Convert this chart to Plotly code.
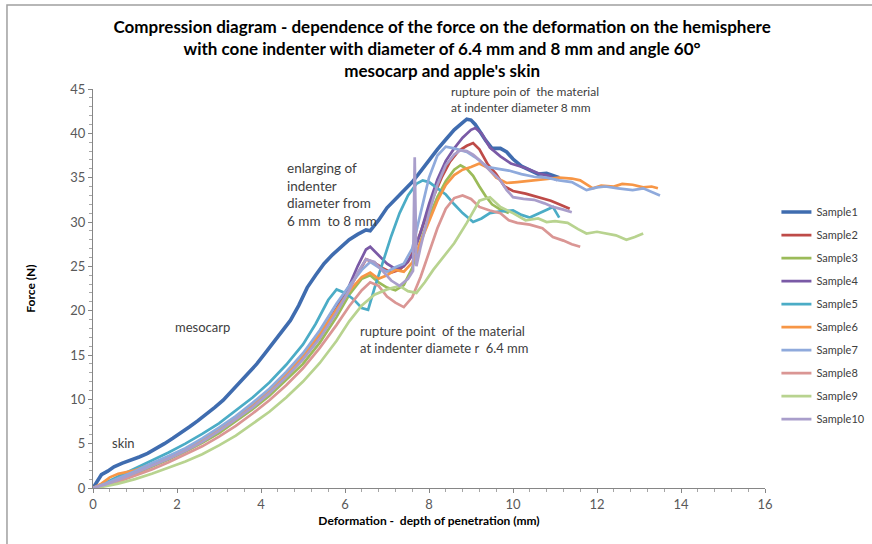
import plotly.graph_objects as go

names = ["Sample1", "Sample2", "Sample3", "Sample4", "Sample5",
         "Sample6", "Sample7", "Sample8", "Sample9", "Sample10"]
colors = ["#3F6CAF", "#BE4B48", "#9BBB59", "#7A5AA6", "#4BACC6",
          "#F79646", "#8FAADC", "#DA9694", "#B8D38F", "#A99ECB"]

s1_x = [0, 0.1, 0.2, 0.35, 0.5, 0.7, 0.9, 1.1, 1.3, 1.5, 1.7, 1.9, 2.1, 2.3, 2.5, 2.7, 2.9, 3.1, 3.3, 3.5,
        3.7, 3.9, 4.1, 4.3, 4.5, 4.7, 4.9, 5.1, 5.3, 5.5, 5.7, 5.9, 6.1, 6.3, 6.5, 6.6, 6.8, 7.0, 7.2, 7.4,
        7.6, 7.8, 8.0, 8.2, 8.4, 8.6, 8.8, 8.9, 9.0, 9.1, 9.2, 9.35, 9.5, 9.7, 9.85, 10.0, 10.2, 10.4, 10.6,
        10.8, 11.0, 11.1]
s1_y = [0, 0.8, 1.5, 1.9, 2.4, 2.8, 3.1, 3.5, 3.9, 4.4, 5.0, 5.6, 6.2, 6.9, 7.6, 8.3, 9.1, 9.9, 10.9, 11.9,
        12.9, 14.0, 15.2, 16.4, 17.6, 18.9, 20.6, 22.6, 24.0, 25.3, 26.3, 27.2, 28.0, 28.6, 29.1, 29.0, 30.2,
        31.6, 32.6, 33.5, 34.5, 35.7, 37.0, 38.2, 39.3, 40.4, 41.2, 41.6, 41.5, 41.0, 40.3, 39.2, 38.3, 38.3,
        37.9, 37.1, 36.3, 35.8, 35.4, 35.5, 35.1, 35.0]

s2_x = [0, 0.3, 0.6, 1.0, 1.4, 1.8, 2.2, 2.6, 3.0, 3.4, 3.8, 4.2, 4.6, 5.0, 5.4, 5.8, 6.1, 6.3, 6.5, 6.7,
        6.9, 7.1, 7.3, 7.5, 7.7, 7.9, 8.1, 8.3, 8.5, 8.7, 8.9, 9.05, 9.2, 9.4, 9.6, 9.8, 10.0, 10.3, 10.6,
        10.9, 11.1, 11.35]
s2_y = [0, 0.4, 1.0, 1.8, 2.6, 3.4, 4.3, 5.3, 6.5, 7.8, 9.2, 10.8, 12.6, 14.6, 17.0, 20.0, 22.5, 24.3, 25.8,
        25.4, 24.8, 24.3, 24.6, 25.5, 27.5, 30.2, 32.8, 35.0, 36.8, 38.0, 38.6, 38.9, 38.2, 36.5, 35.4, 34.0,
        33.5, 33.2, 32.8, 32.4, 32.0, 31.5]

s3_x = [0, 0.3, 0.6, 1.0, 1.4, 1.8, 2.2, 2.6, 3.0, 3.4, 3.8, 4.2, 4.6, 5.0, 5.4, 5.8, 6.1, 6.4, 6.6, 6.8,
        7.0, 7.2, 7.4, 7.6, 7.8, 8.0, 8.2, 8.4, 8.6, 8.75, 8.9, 9.05, 9.2, 9.35, 9.5, 9.7, 9.9]
s3_y = [0, 0.3, 0.8, 1.6, 2.4, 3.2, 4.1, 5.1, 6.2, 7.5, 8.9, 10.4, 12.2, 14.0, 16.4, 19.3, 21.8, 23.6, 24.0,
        23.2, 22.6, 22.3, 22.9, 24.8, 27.8, 30.5, 32.8, 34.6, 35.9, 36.4, 36.0, 35.2, 34.0, 32.9, 32.0, 31.4,
        31.0]

s4_x = [0, 0.3, 0.6, 1.0, 1.4, 1.8, 2.2, 2.6, 3.0, 3.4, 3.8, 4.2, 4.6, 5.0, 5.4, 5.8, 6.1, 6.3, 6.5, 6.6,
        6.8, 7.0, 7.2, 7.4, 7.6, 7.8, 8.0, 8.2, 8.4, 8.6, 8.8, 9.0, 9.1, 9.25, 9.45, 9.7, 9.95, 10.3, 10.6,
        10.85, 11.05]
s4_y = [0, 0.5, 1.1, 1.9, 2.7, 3.5, 4.4, 5.4, 6.6, 7.9, 9.3, 10.9, 12.7, 14.8, 17.3, 20.3, 22.8, 25.0, 26.9,
        27.2, 26.2, 25.3, 24.7, 25.0, 26.2, 28.8, 32.0, 34.8, 36.9, 38.3, 39.5, 40.4, 40.6, 40.0, 38.4, 37.4,
        36.6, 36.1, 35.5, 35.2, 34.7]

s5_x = [0, 0.3, 0.6, 1.0, 1.4, 1.8, 2.2, 2.6, 3.0, 3.4, 3.8, 4.2, 4.6, 5.0, 5.3, 5.6, 5.8, 6.0, 6.2, 6.4,
        6.55, 6.7, 6.9, 7.1, 7.3, 7.5, 7.7, 7.85, 8.0, 8.2, 8.4, 8.6, 8.8, 9.05, 9.25, 9.45, 9.7, 10.0, 10.2,
        10.4, 10.7, 10.95, 11.1]
s5_y = [0, 0.6, 1.3, 2.2, 3.1, 4.0, 5.0, 6.1, 7.3, 8.7, 10.2, 11.9, 13.9, 16.2, 18.5, 21.2, 22.4, 22.0, 21.3,
        20.3, 20.1, 22.5, 25.4, 28.4, 31.0, 33.0, 34.3, 34.7, 34.5, 33.8, 33.1, 32.0, 31.0, 30.0, 30.4, 31.0,
        31.2, 31.3, 30.8, 30.5, 31.2, 31.7, 30.5]

s6_x = [0, 0.2, 0.4, 0.6, 1.0, 1.4, 1.8, 2.2, 2.6, 3.0, 3.4, 3.8, 4.2, 4.6, 5.0, 5.4, 5.8, 6.1, 6.4, 6.6,
        6.8, 7.0, 7.2, 7.4, 7.6, 7.8, 8.0, 8.2, 8.4, 8.6, 8.8, 9.0, 9.2, 9.4, 9.6, 9.85, 10.1, 10.5, 10.8,
        11.1, 11.4, 11.6, 11.9, 12.1, 12.4, 12.6, 12.85, 13.1, 13.3, 13.45]
s6_y = [0, 0.5, 1.2, 1.6, 2.0, 2.7, 3.5, 4.4, 5.4, 6.6, 7.9, 9.4, 11.0, 12.8, 14.9, 17.4, 20.2, 22.2, 23.8,
        24.3, 23.6, 24.0, 24.6, 24.4, 25.4, 27.8, 30.2, 32.4, 34.2, 35.3, 35.9, 36.2, 36.6, 36.1, 35.0, 34.4,
        34.5, 34.7, 34.8, 35.0, 34.9, 34.7, 33.8, 34.1, 34.0, 34.3, 34.2, 33.9, 34.0, 33.8]

s7_x = [0, 0.3, 0.6, 1.0, 1.4, 1.8, 2.2, 2.6, 3.0, 3.4, 3.8, 4.2, 4.6, 5.0, 5.4, 5.8, 6.1, 6.4, 6.6, 6.8,
        7.0, 7.2, 7.4, 7.6, 7.8, 8.0, 8.2, 8.4, 8.6, 8.9, 9.1, 9.4, 9.65, 9.9, 10.2, 10.5, 10.8, 11.1, 11.4,
        11.75, 12.0, 12.2, 12.5, 12.85, 13.1, 13.3, 13.5]
s7_y = [0, 0.5, 1.1, 1.9, 2.8, 3.6, 4.5, 5.6, 6.8, 8.1, 9.6, 11.2, 13.1, 15.2, 17.8, 20.8, 22.8, 24.6, 25.5,
        24.9, 24.4, 24.9, 25.3, 27.0, 31.0, 35.0, 37.5, 38.5, 38.3, 37.9, 37.3, 36.2, 36.0, 35.8, 35.4, 35.1,
        35.0, 34.7, 34.5, 33.6, 33.9, 34.0, 33.8, 33.6, 33.8, 33.4, 33.0]

s8_x = [0, 0.3, 0.6, 1.0, 1.4, 1.8, 2.2, 2.6, 3.0, 3.4, 3.8, 4.2, 4.6, 5.0, 5.4, 5.8, 6.1, 6.4, 6.6, 6.8,
        7.0, 7.2, 7.4, 7.6, 7.8, 8.0, 8.2, 8.4, 8.6, 8.8, 9.0, 9.2, 9.45, 9.7, 9.9, 10.1, 10.4, 10.7, 10.95,
        11.2, 11.4, 11.6]
s8_y = [0, 0.3, 0.7, 1.4, 2.1, 2.9, 3.8, 4.7, 5.8, 7.0, 8.4, 9.9, 11.6, 13.5, 15.8, 18.4, 20.5, 22.3, 23.2,
        22.8, 21.6, 20.9, 20.4, 21.5, 23.8, 26.5, 29.3, 31.5, 32.7, 33.0, 32.6, 31.7, 31.3, 31.0, 30.2, 29.9,
        29.7, 29.3, 28.3, 27.9, 27.5, 27.2]

s9_x = [0, 0.3, 0.6, 1.0, 1.4, 1.8, 2.2, 2.6, 3.0, 3.4, 3.8, 4.2, 4.6, 5.0, 5.4, 5.8, 6.1, 6.4, 6.7, 7.0,
        7.3, 7.5, 7.7, 7.9, 8.1, 8.3, 8.6, 8.9, 9.2, 9.45, 9.7, 10.0, 10.3, 10.6, 10.8, 11.0, 11.3, 11.55,
        11.75, 12.0, 12.2, 12.45, 12.7, 12.9, 13.1]
s9_y = [0, 0.2, 0.5, 1.0, 1.6, 2.3, 3.0, 3.8, 4.8, 5.9, 7.2, 8.6, 10.2, 12.0, 14.1, 16.6, 18.8, 20.6, 21.8,
        22.4, 22.8, 22.2, 22.0, 23.2, 24.6, 25.8, 27.6, 29.9, 32.4, 32.8, 31.7, 31.0, 30.2, 30.4, 30.0, 30.1,
        29.9, 29.2, 28.7, 28.9, 28.7, 28.5, 28.0, 28.3, 28.7]

s10_x = [0, 0.3, 0.6, 1.0, 1.4, 1.8, 2.2, 2.6, 3.0, 3.4, 3.8, 4.2, 4.6, 5.0, 5.4, 5.8, 6.1, 6.3, 6.5, 6.7,
         6.9, 7.1, 7.3, 7.5, 7.62, 7.66, 7.7, 7.8, 8.0, 8.2, 8.4, 8.6, 8.75, 8.9, 9.05, 9.2, 9.45, 9.7, 9.85,
         10.0, 10.25, 10.5, 10.75, 10.95, 11.2, 11.4]
s10_y = [0, 0.4, 0.9, 1.7, 2.5, 3.3, 4.2, 5.2, 6.4, 7.7, 9.1, 10.7, 12.5, 14.5, 16.9, 19.8, 22.3, 24.3, 25.8,
         25.5, 24.4, 23.4, 22.8, 23.6, 24.5, 37.3, 25.0, 27.2, 31.0, 34.2, 36.4, 37.6, 38.1, 38.0, 37.6, 37.0,
         35.8, 34.7, 33.6, 32.8, 32.6, 32.5, 32.1, 31.7, 31.4, 31.1]

xs = [s1_x, s2_x, s3_x, s4_x, s5_x, s6_x, s7_x, s8_x, s9_x, s10_x]
ys = [s1_y, s2_y, s3_y, s4_y, s5_y, s6_y, s7_y, s8_y, s9_y, s10_y]

x_ticks = [0, 2, 4, 6, 8, 10, 12, 14, 16]
y_ticks = [0, 5, 10, 15, 20, 25, 30, 35, 40, 45]

FONT = "Lato, Carlito, Calibri, sans-serif"

fig = go.Figure()
for i, (n, c, x, y) in enumerate(zip(names, colors, xs, ys)):
    fig.add_trace(go.Scatter(x=x, y=y, name=n, mode="lines", legendgroup=n,
                             line=dict(color=c, width=3.6 if i == 0 else 2.7)))

annots = [
    ("rupture poin of  the material<br>at indenter diameter 8 mm", 8.48, 43.85, 12),
    ("enlarging of<br>indenter<br>diameter from<br>6 mm  to 8 mm", 4.57, 33.05, 13.5),
    ("mesocarp", 1.9, 18.15, 13),
    ("skin", 0.40, 5.07, 13),
    ("rupture point  of the material<br>at indenter diamete r  6.4 mm", 6.31, 16.8, 13),
]
annotations = [dict(text=t, x=ax, y=ay, xref="x", yref="y", xanchor="left", yanchor="middle",
                    align="left", showarrow=False, font=dict(family=FONT, size=fs, color="#404040"))
               for t, ax, ay, fs in annots]

fig.update_layout(
    width=872, height=544,
    margin=dict(l=93, r=107, t=89, b=56, autoexpand=False),
    paper_bgcolor="white", plot_bgcolor="white",
    font=dict(family=FONT, color="#404040"),
    title=dict(text="Compression diagram - dependence of the force on the deformation on the hemisphere<br>"
                    "with cone indenter with diameter of 6.4 mm and 8 mm and angle 60°<br>"
                    "mesocarp and apple's skin",
               x=0.507, xanchor="center", y=0.939, yanchor="top",
               font=dict(family=FONT, size=17, color="#000000", weight="bold")),
    xaxis=dict(range=[0, 16], tickvals=x_ticks, showgrid=False, zeroline=False, automargin=False,
               showline=True, linecolor="#868686", linewidth=1,
               ticks="outside", ticklen=4, tickcolor="#868686",
               minor=dict(dtick=0.4, ticks="outside", ticklen=3, tickcolor="#A6A6A6", showgrid=False),
               tickfont=dict(family=FONT, size=13, color="#595959"),
               title=dict(text="Deformation -  depth of penetration (mm)", standoff=6,
                          font=dict(family=FONT, size=12, color="#000000", weight="bold"))),
    yaxis=dict(range=[0, 45], tickvals=y_ticks, showgrid=False, zeroline=False, automargin=False,
               showline=True, linecolor="#868686", linewidth=1,
               ticks="outside", ticklen=4, tickcolor="#868686",
               minor=dict(dtick=1, ticks="outside", ticklen=3, tickcolor="#A6A6A6", showgrid=False),
               tickfont=dict(family=FONT, size=13, color="#595959"),
               title=dict(text="Force (N)", standoff=32,
                          font=dict(family=FONT, size=12, color="#000000", weight="bold"))),
    legend=dict(x=1.017, xanchor="left", y=0.728, yanchor="top", tracegroupgap=4,
                font=dict(family=FONT, size=11, color="#404040"), bgcolor="rgba(0,0,0,0)"),
    annotations=annotations,
    shapes=[dict(type="rect", xref="paper", yref="paper", x0=-0.128, x1=1.5, y0=-0.5, y1=1.2105,
                 line=dict(color="#A0A0A0", width=1.5), fillcolor="rgba(0,0,0,0)", layer="below")],
)

fig.write_html("out.html", config={"displayModeBar": False},
               post_script="document.body.style.margin='0';document.body.style.overflow='hidden';")
